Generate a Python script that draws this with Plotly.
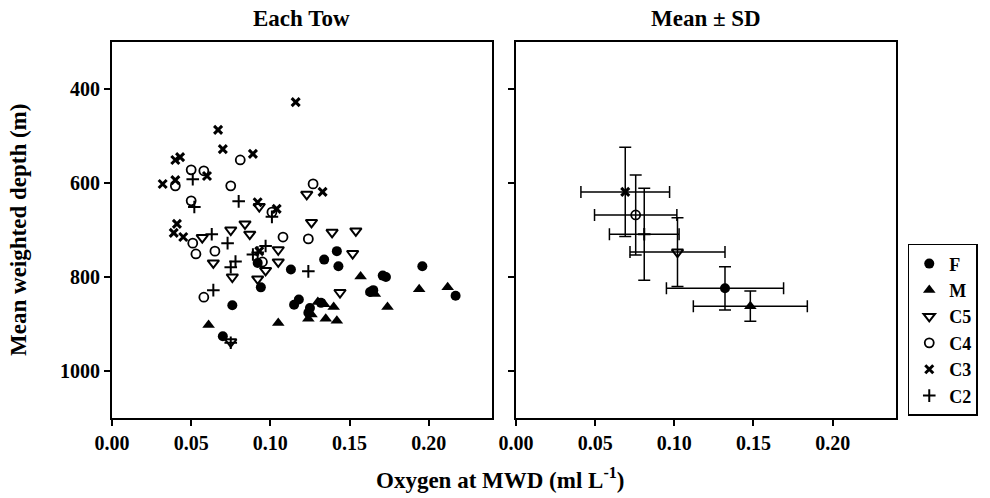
import plotly.graph_objects as go
from plotly.subplots import make_subplots

# ---- Data: individual tows (oxygen at MWD, mean weighted depth) ----
F_x = [0.070, 0.076, 0.092, 0.094, 0.113, 0.115, 0.118, 0.124, 0.125, 0.132, 0.134, 0.142, 0.143, 0.163, 0.165, 0.171, 0.173, 0.196, 0.217]
F_y = [926, 860, 770, 822, 784, 859, 848, 876, 866, 855, 763, 745, 777, 832, 828, 797, 800, 777, 840]

M_x = [0.061, 0.105, 0.124, 0.126, 0.130, 0.134, 0.135, 0.140, 0.142, 0.157, 0.164, 0.166, 0.174, 0.194, 0.212]
M_y = [902, 898, 889, 880, 853, 858, 889, 864, 893, 799, 832, 836, 864, 826, 822]

C5_x = [0.057, 0.064, 0.075, 0.076, 0.075, 0.084, 0.087, 0.092, 0.093, 0.097, 0.105, 0.105, 0.123, 0.126, 0.139, 0.144, 0.152, 0.154]
C5_y = [716, 770, 700, 800, 938, 687, 709, 804, 650, 786, 742, 768, 624, 684, 705, 833, 750, 702]

C4_x = [0.040, 0.050, 0.050, 0.051, 0.053, 0.058, 0.058, 0.065, 0.075, 0.081, 0.095, 0.101, 0.108, 0.124, 0.127]
C4_y = [606, 572, 638, 728, 751, 574, 843, 745, 606, 551, 768, 662, 715, 719, 602]

C3_x = [0.116, 0.067, 0.070, 0.043, 0.040, 0.089, 0.032, 0.040, 0.060, 0.092, 0.104, 0.041, 0.039, 0.045, 0.093, 0.133]
C3_y = [428, 487, 528, 545, 551, 538, 602, 594, 585, 641, 655, 687, 706, 715, 745, 619]

C2_x = [0.051, 0.052, 0.080, 0.063, 0.073, 0.075, 0.078, 0.092, 0.097, 0.064, 0.075, 0.101, 0.124, 0.089]
C2_y = [592, 651, 639, 709, 728, 779, 767, 748, 734, 828, 940, 672, 788, 752]

# ---- Data: mean +/- SD by stage ----
stages = ["F", "M", "C5", "C4", "C3", "C2"]
mean_x = [0.132, 0.148, 0.102, 0.0756, 0.069, 0.081]
mean_y = [824, 862, 747, 668, 619, 709]
sd_x = [0.037, 0.036, 0.030, 0.026, 0.028, 0.022]
sd_y = [46, 32, 73, 85, 95, 98]

x_ticks = [0.00, 0.05, 0.10, 0.15, 0.20]
y_ticks = [400, 600, 800, 1000]

FONT = "Liberation Serif"

symbols = {
    "F": dict(symbol="circle", size=10, color="black", line=dict(width=0)),
    "M": dict(symbol="triangle-up", size=11, color="black", line=dict(width=0)),
    "C5": dict(symbol="triangle-down-open", size=10, color="black", line=dict(width=2, color="black")),
    "C4": dict(symbol="circle-open", size=9, color="black", line=dict(width=1.8, color="black")),
    "C3": dict(symbol="x-thin", size=8, color="black", line=dict(width=3, color="black")),
    "C2": dict(symbol="cross-thin", size=9, color="black", line=dict(width=2, color="black")),
}

series = {
    "F": (F_x, F_y), "M": (M_x, M_y), "C5": (C5_x, C5_y),
    "C4": (C4_x, C4_y), "C3": (C3_x, C3_y), "C2": (C2_x, C2_y),
}

fig = make_subplots(rows=1, cols=2, horizontal_spacing=0.0306)

for name in stages:
    xs, ys = series[name]
    fig.add_trace(go.Scatter(x=xs, y=ys, mode="markers", name=name,
                             legendgroup=name, marker=symbols[name],
                             showlegend=True), row=1, col=1)

for i, name in enumerate(stages):
    fig.add_trace(go.Scatter(
        x=[mean_x[i]], y=[mean_y[i]], mode="markers", name=name,
        legendgroup=name, showlegend=False, marker=symbols[name],
        error_x=dict(type="data", array=[sd_x[i]], color="black", thickness=1.5, width=6),
        error_y=dict(type="data", array=[sd_y[i]], color="black", thickness=1.5, width=6),
    ), row=1, col=2)

tickfont = dict(family=FONT, size=20, color="black", weight="bold")
axis_common = dict(showline=True, linecolor="black", linewidth=2, mirror=True,
                   ticks="outside", ticklen=6, tickwidth=2, tickcolor="black",
                   showgrid=False, zeroline=False, tickfont=tickfont)

fig.update_xaxes(range=[0, 0.24], tickvals=x_ticks, tickformat=".2f", **axis_common)
fig.update_yaxes(range=[1100, 300], tickvals=y_ticks, **axis_common)
fig.update_yaxes(showticklabels=False, row=1, col=2)

fig.update_layout(
    width=990, height=498,
    margin=dict(l=112, r=94, t=42, b=80),
    plot_bgcolor="white", paper_bgcolor="white",
    font=dict(family=FONT, color="black"),
    legend=dict(x=1.015, y=0.463, xanchor="left", yanchor="top",
                bordercolor="black", borderwidth=1.5, bgcolor="white",
                font=dict(family=FONT, size=18, color="black", weight="bold"),
                tracegroupgap=0, itemwidth=30),
    annotations=[
        dict(text="<b>Each Tow</b>", xref="paper", yref="paper", x=0.2423, y=1.0,
             yshift=24, xanchor="center", yanchor="middle", showarrow=False,
             font=dict(family=FONT, size=23, color="black")),
        dict(text="<b>Mean ± SD</b>", xref="paper", yref="paper", x=0.758, y=1.0,
             yshift=24, xanchor="center", yanchor="middle", showarrow=False,
             font=dict(family=FONT, size=23, color="black")),
        dict(text="<b>Oxygen at MWD (ml L<sup>-1</sup>)</b>", xref="paper", yref="paper",
             x=0.495, y=-0.16, xanchor="center", yanchor="middle", showarrow=False,
             font=dict(family=FONT, size=23, color="black")),
        dict(text="<b>Mean weighted depth (m)</b>", xref="paper", yref="paper",
             x=-0.12, y=0.5, xanchor="center", yanchor="middle", textangle=-90,
             showarrow=False, font=dict(family=FONT, size=23, color="black")),
    ],
)

fig.write_html("out.html")
